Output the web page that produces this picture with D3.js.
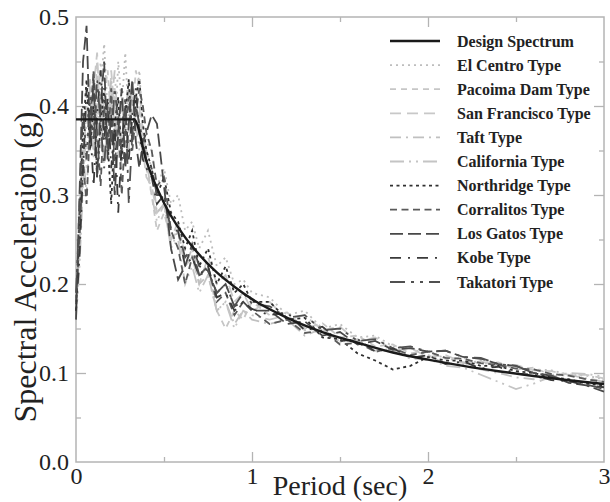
<!DOCTYPE html>
<html><head><meta charset="utf-8">
<script src="https://cdn.jsdelivr.net/npm/d3@7/dist/d3.min.js"></script>
<style>body{margin:0;background:#fff;} svg{display:block;}</style>
</head><body>
<svg id="chart" width="610" height="502"></svg>
<script>
// ---- data ----
const periods = [0,0.02,0.04,0.06,0.08,0.10,0.12,0.14,0.16,0.18,0.20,0.22,0.24,0.26,0.28,0.30,0.32,0.34,0.36,0.38,0.40,
  0.43,0.46,0.50,0.54,0.58,0.62,0.66,0.70,0.75,0.80,0.85,0.90,0.95,1.00,
  1.1,1.2,1.3,1.4,1.5,1.6,1.7,1.8,1.9,2.0,2.1,2.2,2.3,2.4,2.5,2.6,2.7,2.8,2.9,3.0];

const designPeriods = [0,0.33,0.4,0.5,0.6,0.7,0.8,0.9,1.0,1.2,1.4,1.6,1.8,2.0,2.2,2.4,2.6,2.8,3.0];
const designValues  = [0.385,0.385,0.338,0.291,0.258,0.233,0.213,0.197,0.183,0.162,0.146,0.134,0.123,0.115,0.108,0.102,0.0966,0.0919,0.0877];

const elCentro = [0.18,0.26,0.36,0.41,0.35,0.44,0.38,0.42,0.47,0.39,0.43,0.36,0.45,0.40,0.46,0.38,0.42,0.40,0.44,0.37,0.36,
  0.35,0.31,0.33,0.29,0.30,0.26,0.27,0.24,0.26,0.22,0.23,0.20,0.205,0.19,
  0.185,0.165,0.17,0.15,0.155,0.14,0.142,0.13,0.128,0.12,0.118,0.11,0.114,0.108,0.107,0.104,0.103,0.098,0.097,0.093];
const pacoimaDam = [0.20,0.30,0.39,0.33,0.43,0.37,0.45,0.35,0.41,0.44,0.38,0.42,0.34,0.40,0.37,0.43,0.39,0.44,0.42,0.37,0.33,
  0.30,0.26,0.28,0.25,0.27,0.23,0.24,0.21,0.22,0.17,0.15,0.17,0.16,0.18,
  0.165,0.168,0.15,0.156,0.14,0.142,0.13,0.132,0.122,0.125,0.116,0.117,0.11,0.112,0.104,0.106,0.098,0.099,0.093,0.092];
const sanFrancisco = [0.17,0.24,0.33,0.40,0.36,0.42,0.46,0.37,0.41,0.35,0.44,0.39,0.36,0.42,0.38,0.35,0.41,0.37,0.40,0.35,0.32,
  0.31,0.28,0.29,0.25,0.26,0.22,0.23,0.20,0.23,0.20,0.21,0.18,0.19,0.17,
  0.18,0.16,0.165,0.148,0.152,0.135,0.14,0.125,0.128,0.118,0.12,0.112,0.113,0.108,0.109,0.103,0.102,0.098,0.098,0.094];
const taft = [0.19,0.28,0.35,0.30,0.39,0.44,0.36,0.41,0.33,0.39,0.43,0.37,0.41,0.35,0.39,0.42,0.36,0.40,0.38,0.34,0.35,
  0.33,0.28,0.29,0.24,0.26,0.22,0.24,0.20,0.21,0.17,0.18,0.155,0.17,0.16,
  0.155,0.16,0.142,0.15,0.135,0.138,0.125,0.127,0.117,0.12,0.11,0.112,0.104,0.10,0.095,0.093,0.096,0.098,0.094,0.09];
const california = [0.16,0.22,0.31,0.38,0.43,0.34,0.40,0.45,0.38,0.34,0.40,0.44,0.37,0.33,0.40,0.37,0.43,0.38,0.35,0.38,0.34,
  0.30,0.27,0.29,0.24,0.25,0.20,0.22,0.19,0.21,0.17,0.18,0.15,0.17,0.165,
  0.16,0.165,0.148,0.15,0.135,0.136,0.124,0.125,0.116,0.116,0.108,0.106,0.098,0.09,0.082,0.088,0.096,0.10,0.099,0.096];
const northridge = [0.17,0.27,0.37,0.43,0.35,0.40,0.32,0.38,0.42,0.36,0.29,0.38,0.41,0.34,0.39,0.43,0.36,0.41,0.43,0.38,0.35,
  0.33,0.30,0.32,0.28,0.27,0.24,0.26,0.22,0.24,0.20,0.22,0.19,0.20,0.18,
  0.18,0.16,0.162,0.14,0.138,0.122,0.114,0.104,0.108,0.118,0.114,0.114,0.108,0.108,0.102,0.10,0.095,0.093,0.088,0.086];
const corralitos = [0.18,0.25,0.34,0.29,0.38,0.44,0.37,0.31,0.40,0.35,0.42,0.33,0.39,0.30,0.37,0.41,0.35,0.39,0.42,0.40,0.37,
  0.35,0.31,0.32,0.26,0.24,0.20,0.23,0.21,0.22,0.18,0.19,0.165,0.18,0.17,
  0.155,0.16,0.145,0.148,0.132,0.134,0.124,0.128,0.12,0.124,0.117,0.116,0.111,0.109,0.105,0.104,0.099,0.097,0.093,0.09];
const losGatos = [0.16,0.30,0.45,0.49,0.36,0.43,0.32,0.40,0.45,0.34,0.39,0.30,0.37,0.42,0.33,0.38,0.43,0.36,0.33,0.36,0.37,
  0.39,0.38,0.31,0.24,0.205,0.22,0.245,0.22,0.215,0.19,0.20,0.175,0.18,0.17,
  0.17,0.155,0.158,0.142,0.146,0.132,0.136,0.126,0.128,0.124,0.125,0.118,0.116,0.11,0.108,0.10,0.097,0.089,0.086,0.079];
const kobe = [0.17,0.23,0.33,0.42,0.38,0.31,0.39,0.44,0.36,0.41,0.33,0.38,0.28,0.36,0.40,0.34,0.39,0.42,0.37,0.34,0.33,
  0.32,0.29,0.30,0.26,0.26,0.22,0.23,0.21,0.22,0.185,0.19,0.17,0.18,0.172,
  0.165,0.168,0.148,0.152,0.136,0.138,0.124,0.128,0.117,0.12,0.11,0.113,0.105,0.107,0.099,0.098,0.092,0.091,0.086,0.084];
const takatori = [0.19,0.28,0.40,0.34,0.41,0.36,0.43,0.38,0.33,0.40,0.36,0.42,0.38,0.35,0.41,0.29,0.37,0.40,0.38,0.36,0.34,
  0.33,0.30,0.30,0.26,0.26,0.23,0.24,0.21,0.215,0.19,0.20,0.175,0.19,0.178,
  0.175,0.162,0.165,0.148,0.15,0.136,0.138,0.128,0.13,0.124,0.125,0.118,0.117,0.11,0.108,0.10,0.097,0.09,0.087,0.082];

const seriesNames = ["El Centro Type","Pacoima Dam Type","San Francisco Type","Taft Type","California Type",
  "Northridge Type","Corralitos Type","Los Gatos Type","Kobe Type","Takatori Type"];
const seriesValues = [elCentro,pacoimaDam,sanFrancisco,taft,california,northridge,corralitos,losGatos,kobe,takatori];
const xTickValues = [0,1,2,3];
const yTickValues = [0,0.1,0.2,0.3,0.4,0.5];

// ---- styles ----
const seriesColors = ["#bdbdbd","#c6c6c6","#c8c8c8","#c0c0c0","#c4c4c4","#303030","#5a5a5a","#484848","#3a3a3a","#505050"];
const seriesDash = ["2,4","6,5","11,6","11,5,2,5","14,5,2,5,2,5","3,3.5","7,4.5","13,5","11,7,2,7","15,6,3,6,3,6"];

const svg = d3.select("#chart");
const M = {left:76, right:604, top:17, bottom:462};
const x = d3.scaleLinear().domain([0,3]).range([M.left,M.right]);
const y = d3.scaleLinear().domain([0,0.5]).range([M.bottom,M.top]);
const frameColor = "#b4b4b4";
const serif = "'Liberation Serif','Times New Roman',serif";

// ticks (inside)
const gAx = svg.append("g");
function ticks(axisGen, transform){
  const g = gAx.append("g").attr("transform",transform).call(axisGen);
  g.select(".domain").remove();
  g.selectAll("line").attr("stroke",frameColor).attr("stroke-width",1.3);
  g.selectAll("text").remove();
  return g;
}
const xMinor = [0.5,1.5,2.5];
const yMinor = [0.05,0.15,0.25,0.35,0.45];
ticks(d3.axisBottom(x).tickValues(xTickValues.slice(1,3)).tickSize(-10), `translate(0,${M.bottom})`);
ticks(d3.axisBottom(x).tickValues(xMinor).tickSize(-5), `translate(0,${M.bottom})`);
ticks(d3.axisTop(x).tickValues(xTickValues.slice(1,3)).tickSize(-10), `translate(0,${M.top})`);
ticks(d3.axisTop(x).tickValues(xMinor).tickSize(-5), `translate(0,${M.top})`);
ticks(d3.axisLeft(y).tickValues(yTickValues.slice(1,5)).tickSize(-10), `translate(${M.left},0)`);
ticks(d3.axisLeft(y).tickValues(yMinor).tickSize(-5), `translate(${M.left},0)`);
ticks(d3.axisRight(y).tickValues(yTickValues.slice(1,5)).tickSize(-10), `translate(${M.right},0)`);
ticks(d3.axisRight(y).tickValues(yMinor).tickSize(-5), `translate(${M.right},0)`);

// frame
svg.append("rect").attr("x",M.left).attr("y",M.top).attr("width",M.right-M.left).attr("height",M.bottom-M.top)
  .attr("fill","none").attr("stroke",frameColor).attr("stroke-width",1.5);

// tick labels via axes
const xl = svg.append("g").attr("transform",`translate(0,${M.bottom})`)
  .call(d3.axisBottom(x).tickValues(xTickValues).tickFormat(d3.format("d")).tickSize(0).tickPadding(5));
xl.select(".domain").remove();
xl.selectAll("text").attr("font-family",serif).attr("font-size",24).attr("fill","#222");
const yl = svg.append("g").attr("transform",`translate(${M.left},0)`)
  .call(d3.axisLeft(y).tickValues(yTickValues).tickFormat(d3.format(".1f")).tickSize(0).tickPadding(7));
yl.select(".domain").remove();
yl.selectAll("text").attr("font-family",serif).attr("font-size",24).attr("fill","#222");

// axis titles
svg.append("text").attr("x",340).attr("y",495).attr("text-anchor","middle")
  .attr("font-family",serif).attr("font-size",28).attr("fill","#222").text("Period (sec)");
svg.append("text").attr("transform",`translate(36,267) rotate(-90)`).attr("text-anchor","middle")
  .attr("font-family",serif).attr("font-size",32).attr("fill","#222").text("Spectral Acceleraion (g)");

// series
const plot = svg.append("g");
const line = d3.line().x(d=>x(d[0])).y(d=>y(d[1]));
seriesValues.forEach((vals,i)=>{
  plot.append("path").datum(periods.map((p,j)=>[p,vals[j]]))
    .attr("d",line).attr("fill","none").attr("stroke",seriesColors[i])
    .attr("stroke-width",1.8).attr("stroke-dasharray",seriesDash[i]);
});
const dline = d3.line().x(d=>x(d[0])).y(d=>y(d[1])).curve(d3.curveMonotoneX);
plot.append("path").datum(designPeriods.map((p,j)=>[p,designValues[j]]))
  .attr("d",dline).attr("fill","none").attr("stroke","#1a1a1a").attr("stroke-width",2.4);

// legend
const legNames = ["Design Spectrum"].concat(seriesNames);
const legColors = ["#1a1a1a"].concat(seriesColors);
const legDash = [null].concat(seriesDash);
const lg = svg.append("g");
legNames.forEach((n,i)=>{
  const yy = 41 + i*24.1;
  lg.append("line").attr("x1",390).attr("x2",440).attr("y1",yy).attr("y2",yy)
    .attr("stroke",legColors[i]).attr("stroke-width",i===0?2.4:1.8)
    .attr("stroke-dasharray",legDash[i]);
  lg.append("text").attr("x",457).attr("y",yy+5.5).attr("font-family",serif).attr("font-weight","bold")
    .attr("font-size",16).attr("fill","#222").text(n);
});
</script>
</body></html>
